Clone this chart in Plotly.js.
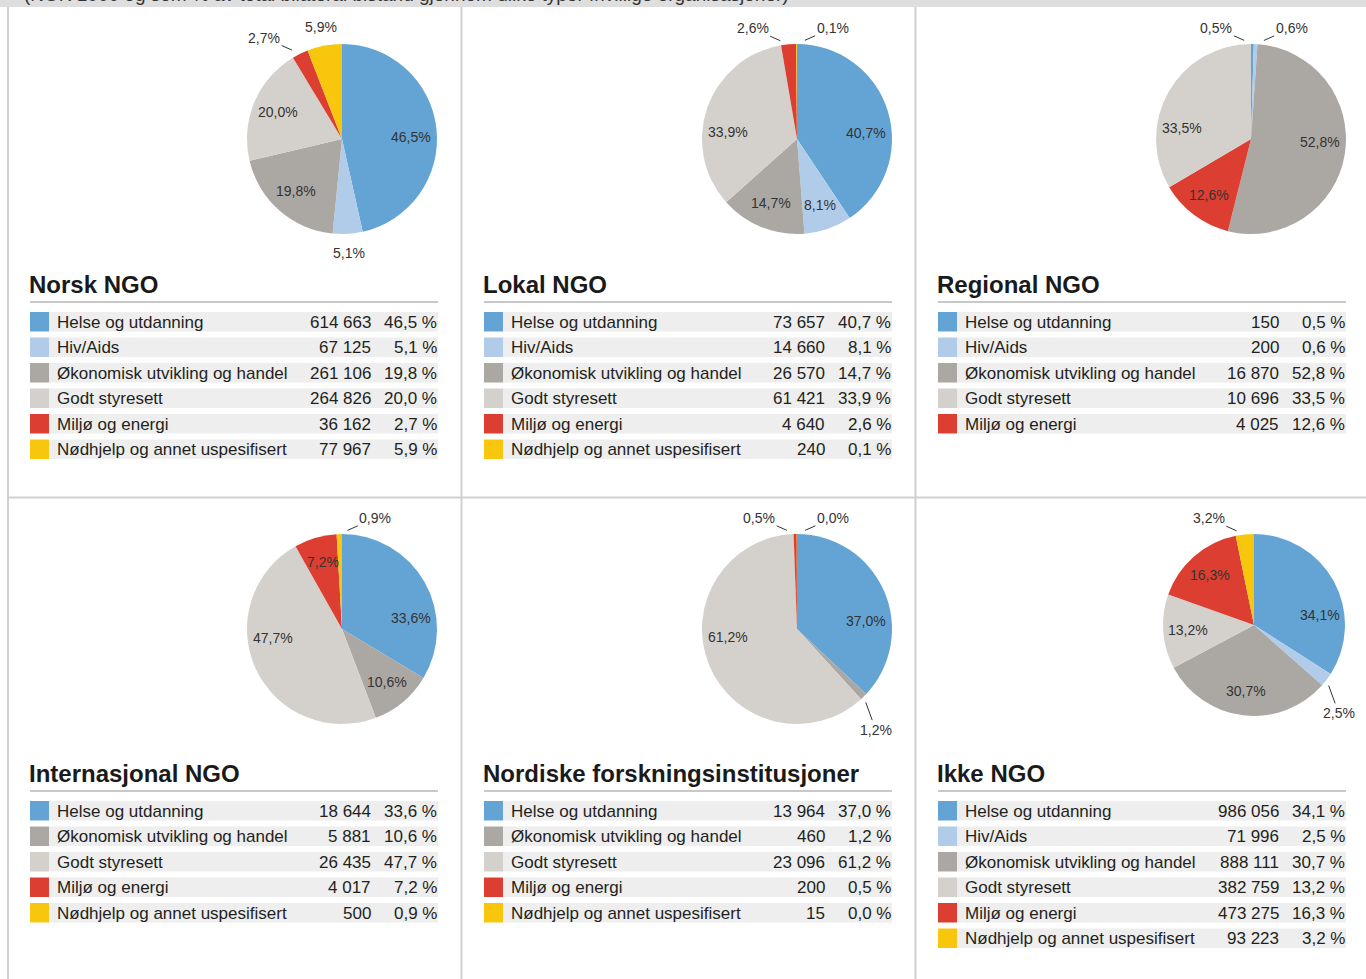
<!DOCTYPE html>
<html><head><meta charset="utf-8">
<script src="https://cdn.plot.ly/plotly-3.0.1.min.js"></script>
<style>html,body{margin:0;padding:0;background:#fff;} #chart{width:1366px;height:979px;}</style>
</head><body><div id="chart"></div>
<script>
// ---------- DATA ----------
const categories = ["Helse og utdanning","Hiv/Aids","Økonomisk utvikling og handel","Godt styresett","Miljø og energi","Nødhjelp og annet uspesifisert"];
const categoryColors = ["#63a4d4","#b0cce9","#aba8a4","#d4d1cd","#dc3f31","#f8c60c"];
const headerText = "(NOK 1000 og som % av total bilateral bistand gjennom ulike typer frivillige organisasjoner)";
const panelTitles = ["Norsk NGO","Lokal NGO","Regional NGO","Internasjonal NGO","Nordiske forskningsinstitusjoner","Ikke NGO"];

const norskCats = [0,1,2,3,4,5];
const norskValues = [614663, 67125, 261106, 264826, 36162, 77967];
const norskPct = [46.5, 5.1, 19.8, 20.0, 2.7, 5.9];

const lokalCats = [0,1,2,3,4,5];
const lokalValues = [73657, 14660, 26570, 61421, 4640, 240];
const lokalPct = [40.7, 8.1, 14.7, 33.9, 2.6, 0.1];

const regionalCats = [0,1,2,3,4];
const regionalValues = [150, 200, 16870, 10696, 4025];
const regionalPct = [0.5, 0.6, 52.8, 33.5, 12.6];
const regionalPieOrder = [0,1,2,4,3];   // slice order in the reference pie

const internasjonalCats = [0,2,3,4,5];
const internasjonalValues = [18644, 5881, 26435, 4017, 500];
const internasjonalPct = [33.6, 10.6, 47.7, 7.2, 0.9];

const nordiskeCats = [0,2,3,4,5];
const nordiskeValues = [13964, 460, 23096, 200, 15];
const nordiskePct = [37.0, 1.2, 61.2, 0.5, 0.0];

const ikkeCats = [0,1,2,3,4,5];
const ikkeValues = [986056, 71996, 888111, 382759, 473275, 93223];
const ikkePct = [34.1, 2.5, 30.7, 13.2, 16.3, 3.2];

// ---------- STYLE / LAYOUT ----------
const W = 1366, H = 979;
const X = px => px / W;
const Y = py => 1 - py / H;

const panels = [
  {cats: norskCats, values: norskValues, pct: norskPct},
  {cats: lokalCats, values: lokalValues, pct: lokalPct},
  {cats: regionalCats, values: regionalValues, pct: regionalPct, order: regionalPieOrder},
  {cats: internasjonalCats, values: internasjonalValues, pct: internasjonalPct},
  {cats: nordiskeCats, values: nordiskeValues, pct: nordiskePct},
  {cats: ikkeCats, values: ikkeValues, pct: ikkePct}
];
// placement style of the small (outside) pie labels, keyed by category index
const outsideLabelPlacement = [
  {1:"radial", 4:"left", 5:"radial"},
  {4:"left", 5:"right"},
  {0:"left", 1:"right"},
  {5:"right"},
  {2:"down", 4:"left", 5:"right"},
  {1:"down", 5:"left"}
];
const colOff = [0, 454, 908];
const rowOff = [0, 489];
const pieGeom = [
  {cx: 342, cy: 139, r: 95},
  {cx: 797, cy: 139, r: 95},
  {cx: 1251, cy: 139, r: 95},
  {cx: 342, cy: 629, r: 95},
  {cx: 797, cy: 629, r: 95},
  {cx: 1254, cy: 625, r: 91}
];

const fmtNum = v => String(v).replace(/\B(?=(\d{3})+(?!\d))/g, " ");
const fmtPct = (p, sp) => p.toFixed(1).replace(".", ",") + (sp ? " %" : "%");

const FONT = "Liberation Sans, Arial, sans-serif";
const TXT = "#231f20";
const LBL = "#333333";

const traces = [];
const shapes = [];
const annotations = [];

// header band + grid lines
shapes.push({type:"rect", xref:"paper", yref:"paper", x0:0, x1:1, y0:Y(7), y1:1, fillcolor:"#dedede", line:{width:0}, layer:"below"});
[8, 461.5, 915.5].forEach(x => shapes.push({type:"line", xref:"paper", yref:"paper", x0:X(x), x1:X(x), y0:0, y1:Y(7), line:{color:"#d0d0d0", width:2}}));
shapes.push({type:"line", xref:"paper", yref:"paper", x0:X(8), x1:1, y0:Y(497.5), y1:Y(497.5), line:{color:"#d0d0d0", width:2}});
annotations.push({xref:"paper", yref:"paper", x:X(22), y:Y(-5), xanchor:"left", yanchor:"middle", showarrow:false, text:headerText, font:{family:FONT, size:19, color:"#333"}});

panels.forEach((p, k) => {
  const dx = colOff[k % 3], dy = rowOff[Math.floor(k / 3)];
  const g = pieGeom[k];
  const order = p.order || p.cats.map((_, i) => i);
  const cats = order.map(i => p.cats[i]);
  const vals = order.map(i => p.values[i]);
  const pcts = order.map(i => p.pct[i]);
  traces.push({
    type: "pie",
    values: vals,
    labels: cats.map(c => categories[c]),
    text: pcts.map(v => fmtPct(v, false)),
    textinfo: "none",
    hovertemplate: "%{label}<br>%{value}<br>%{text}<extra></extra>",
    sort: false,
    direction: "clockwise",
    rotation: 0,
    marker: {colors: cats.map(c => categoryColors[c]), line: {width: 0}},
    domain: {x: [X(g.cx - g.r), X(g.cx + g.r)], y: [Y(g.cy + g.r), Y(g.cy - g.r)]},
    showlegend: false
  });

  // slice labels, placed from the slice angles of the data
  const total = vals.reduce((a, b) => a + b, 0);
  let cum = 0;
  vals.forEach((v, i) => {
    const frac = v / total;
    const a0 = cum * 360, a1 = (cum + frac) * 360;
    let ang = (a0 + a1) / 2;
    cum += frac;
    // big slices that span a horizontal direction: label pulled toward it
    if (frac > 0.3) {
      [90, 270].forEach(h => { if (a0 < h && a1 > h) ang = ang + 0.7 * (h - ang); });
    }
    const th = ang * Math.PI / 180;
    const s = Math.sin(th), c = -Math.cos(th);
    const txt = fmtPct(pcts[i], false);
    const font = {family: FONT, size: 14, color: LBL};
    if (pcts[i] >= 7) {
      const d = 0.73 * g.r;
      annotations.push({xref:"paper", yref:"paper", x:X(g.cx + d * s), y:Y(g.cy + d * c), xanchor:"center", yanchor:"middle", showarrow:false, text:txt, font:font});
    } else {
      const ex = g.cx + g.r * s, ey = g.cy + g.r * c;
      const mode = outsideLabelPlacement[k][cats[i]] || "radial";
      if (mode === "radial") {
        annotations.push({xref:"paper", yref:"paper", x:X(ex + 19 * s), y:Y(ey + 19 * c), xanchor:"center", yanchor:"middle", showarrow:false, text:txt, font:font});
      } else {
        const off = mode === "left" ? [-36, -16] : mode === "right" ? [36, -16] : [12, 33];
        annotations.push({xref:"paper", yref:"paper", x:X(ex), y:Y(ey), showarrow:true, arrowhead:0, arrowwidth:1, arrowcolor:"#333",
          standoff: mode === "down" ? 6 : 9, ax:off[0], ay:off[1], text:txt, font:font});
      }
    }
  });

  // title
  annotations.push({xref:"paper", yref:"paper", x:X(27 + dx), y:Y(284 + dy), xanchor:"left", yanchor:"middle", showarrow:false,
    text:"<b>" + panelTitles[k] + "</b>", font:{family:FONT, size:24, color:"#1a1a1a"}});
  shapes.push({type:"line", xref:"paper", yref:"paper", x0:X(30 + dx), x1:X(438 + dx), y0:Y(302 + dy), y1:Y(302 + dy), line:{color:"#c8c8c8", width:2}});
  // table rows
  p.cats.forEach((c, i) => {
    const top = 312 + dy + i * 25.5, bot = top + 19.5, mid = (top + bot) / 2 + 0.5;
    shapes.push({type:"rect", xref:"paper", yref:"paper", x0:X(49 + dx), x1:X(438 + dx), y0:Y(bot), y1:Y(top), fillcolor:"#eeeeee", line:{width:0}, layer:"below"});
    shapes.push({type:"rect", xref:"paper", yref:"paper", x0:X(30 + dx), x1:X(49 + dx), y0:Y(bot), y1:Y(top), fillcolor:categoryColors[c], line:{width:0}, layer:"below"});
    annotations.push({xref:"paper", yref:"paper", x:X(55 + dx), y:Y(mid), xanchor:"left", yanchor:"middle", showarrow:false,
      text:categories[c], font:{family:FONT, size:17, color:TXT}});
    annotations.push({xref:"paper", yref:"paper", x:X(373 + dx), y:Y(mid), xanchor:"right", yanchor:"middle", showarrow:false,
      text:fmtNum(p.values[i]), font:{family:FONT, size:17, color:TXT}});
    annotations.push({xref:"paper", yref:"paper", x:X(439 + dx), y:Y(mid), xanchor:"right", yanchor:"middle", showarrow:false,
      text:fmtPct(p.pct[i], true), font:{family:FONT, size:17, color:TXT}});
  });
});

const layout = {
  width: W, height: H,
  margin: {l:0, r:0, t:0, b:0, pad:0},
  paper_bgcolor: "#ffffff",
  plot_bgcolor: "#ffffff",
  shapes: shapes,
  annotations: annotations,
  font: {family: FONT}
};
Plotly.newPlot("chart", traces, layout, {displayModeBar:false});
</script>
</body></html>
